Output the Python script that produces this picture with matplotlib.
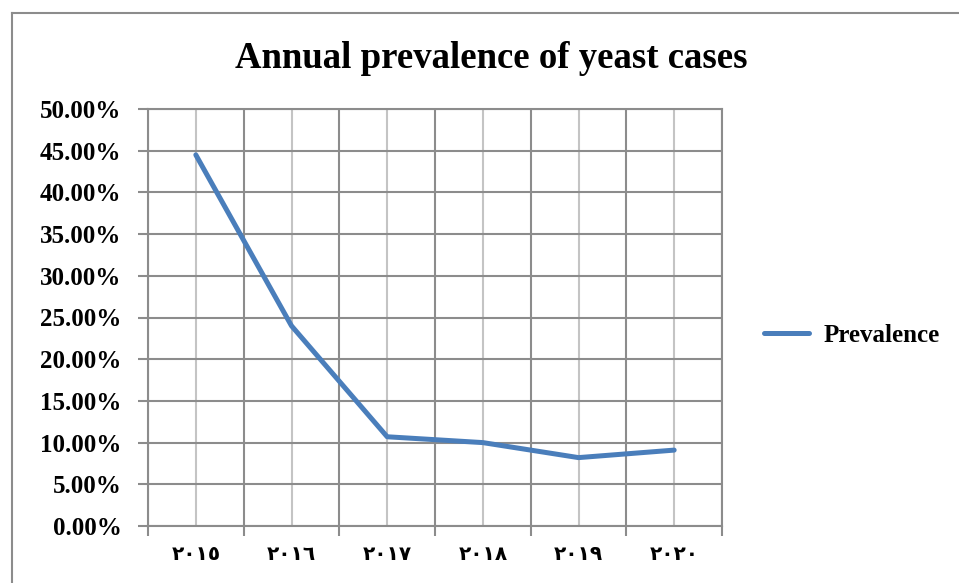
import matplotlib
matplotlib.use("Agg")
import matplotlib.pyplot as plt
from matplotlib.lines import Line2D
from matplotlib.ticker import FixedLocator, FuncFormatter

years = ["٢٠١٥", "٢٠١٦", "٢٠١٧", "٢٠١٨", "٢٠١٩", "٢٠٢٠"]
prevalence = [44.5, 24.0, 10.7, 10.0, 8.2, 9.1]
title = "Annual prevalence of yeast cases"
series_name = "Prevalence"

serif = ["Liberation Serif", "DejaVu Serif"]
fig = plt.figure(figsize=(9.59, 5.83), dpi=100)
ax = fig.add_axes([148/959, 1-526/583, (722-148)/959, (526-109)/583])

x = list(range(len(years)))
ax.plot(x, prevalence, color="#4a7ebb", lw=3.6, solid_capstyle="round", zorder=3)

ax.set_xlim(-0.5, len(years)-0.5)
ax.set_ylim(0, 50)
ax.xaxis.set_major_locator(FixedLocator([i-0.5 for i in range(len(years)+1)]))
ax.xaxis.set_minor_locator(FixedLocator(x))
ax.set_xticklabels([])
ax.set_xticklabels(years, minor=True)
ax.set_yticks([i*5 for i in range(11)])
ax.yaxis.set_major_formatter(FuncFormatter(lambda v, p: f"{v:.2f}%"))

grid_c = "#8c8c8c"
ax.grid(axis="y", which="major", color=grid_c, lw=1.5, zorder=1)
ax.grid(axis="x", which="major", color=grid_c, lw=1.5, zorder=1)
ax.grid(axis="x", which="minor", color="#c4c4c4", lw=1.5, zorder=1)
for s in ax.spines.values():
    s.set_color(grid_c)
    s.set_linewidth(1.5)

ax.tick_params(axis="x", which="major", length=7, width=1.5, color=grid_c)
ax.tick_params(axis="x", which="minor", length=0, pad=14)
ax.tick_params(axis="y", which="major", length=7, width=1.5, color=grid_c, pad=12)
for lab in ax.get_yticklabels():
    lab.set_fontfamily(serif)
    lab.set_fontweight("bold")
    lab.set_fontsize(18)
for lab in ax.get_xticklabels(minor=True):
    lab.set_fontfamily(["DejaVu Sans"])
    lab.set_fontweight("bold")
    lab.set_fontsize(14.5)

fig.text(491/959, 1-58/583, title, ha="center", va="center",
         fontfamily=serif, fontweight="bold", fontsize=26.5)

leg_handle = Line2D([0], [0], color="#4a7ebb", lw=3.6, solid_capstyle="round")
leg = fig.legend([leg_handle], [series_name], loc="center left",
                 bbox_to_anchor=(741/959, 1-335/583), frameon=False,
                 handlelength=1.8, handletextpad=0.6,
                 prop={"family": serif, "weight": "bold", "size": 18})

fig.add_artist(Line2D([12/959, 12/959], [0, 1-13/583], transform=fig.transFigure,
                      color="#8c8c8c", lw=1.5))
fig.add_artist(Line2D([12/959, 958/959], [1-13/583, 1-13/583], transform=fig.transFigure,
                      color="#8c8c8c", lw=1.5))

fig.savefig("out.png", dpi=100, facecolor="white")
